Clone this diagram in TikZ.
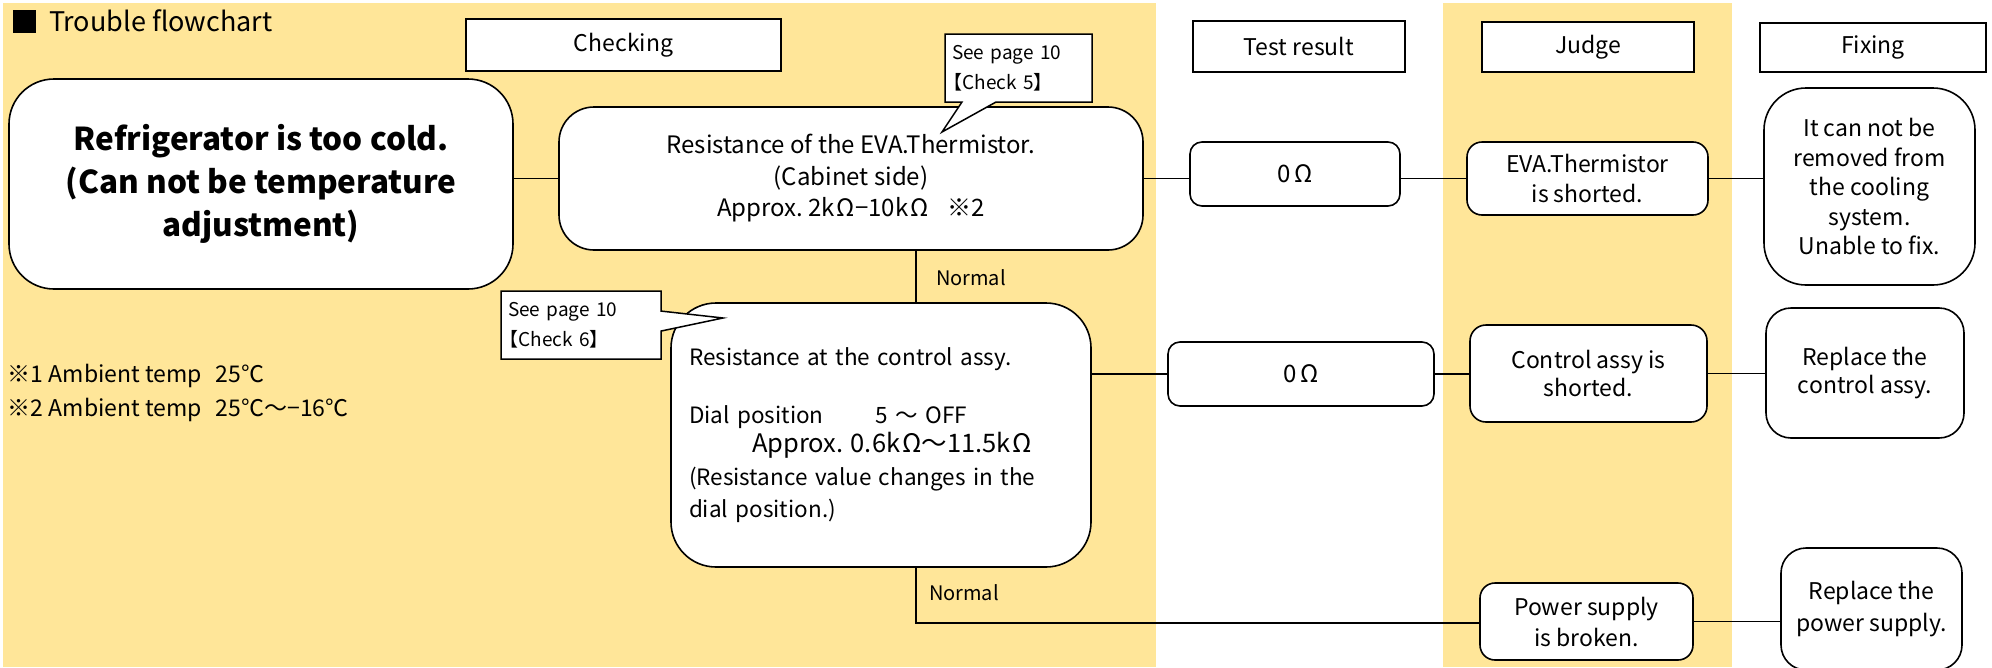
\documentclass[tikz,border=0pt]{standalone}
\usepackage{fontspec}
\setmainfont{Noto Sans CJK JP}
\usetikzlibrary{calc,shapes.callouts}
\definecolor{panel}{RGB}{255,230,153}
\begin{document}
\begin{tikzpicture}[x=1pt,y=-1pt,
  every node/.style={inner sep=0pt, outer sep=0pt},
  hdr/.style={draw, line width=2.2pt, fill=white, font=\fontsize{23}{28}\selectfont},
  rb/.style={draw, line width=1.6pt, fill=white, rounded corners=#1, align=center, font=\fontsize{23}{30}\selectfont},
  con/.style={line width=1.4pt},
  note/.style={anchor=west, font=\fontsize{23}{28}\selectfont},
  lbl/.style={anchor=west, font=\fontsize{20}{24}\selectfont},
  callbox/.style={rectangle callout, draw, line width=1.5pt, fill=white, align=left,
     font=\fontsize{19}{30}\selectfont, inner xsep=7pt, minimum width=147, minimum height=68, text width=133pt}
]
\useasboundingbox (0,0) rectangle (1992,667);
\fill[white] (0,0) rectangle (1992,667);
\fill[panel] (3,3) rectangle (1156,667);
\fill[panel] (1443,3) rectangle (1732,667);

% title
\node[fill=black, minimum width=23, minimum height=23] (sq) at (24.5,21.5) {};
\node[anchor=west, font=\fontsize{27}{30}\selectfont] (title) at (49,21) {Trouble flowchart};

% headers
\node[hdr, minimum width=315, minimum height=52] (hchk) at (623.5,45) {Checking};
\node[hdr, minimum width=212, minimum height=51] (htest) at (1299,46.5) {Test result};
\node[hdr, minimum width=212, minimum height=50] (hjudge) at (1588,47) {Judge};
\node[hdr, minimum width=226, minimum height=49] (hfix) at (1873,47.5) {Fixing};

% start
\node[rb=45, minimum width=504, minimum height=210, font=\fontsize{31.5}{43}\selectfont\bfseries] (ref) at (261,184)
  {Refrigerator is too cold.\\(Can not be temperature\\adjustment)};

% checks
\node[rb=35, minimum width=584, minimum height=143, font=\fontsize{24}{31.5}\selectfont] (eva) at (851,178.5)
  {Resistance of the EVA.Thermistor.\\(Cabinet side)\\Approx.\ 2k\hspace{2pt}Ω−10k\hspace{2pt}Ω\hspace{0.8em}※2};
\node[rb=45, minimum width=420, minimum height=264, align=left, text width=384pt, inner xsep=18pt,
  font=\fontsize{22.5}{32}\selectfont] (ctrl) at (881,435)
  {Resistance at the control assy.\\[26pt]
   Dial position\hspace{52pt}5 ～ OFF\\[-3pt]
   \hspace{63pt}{\fontsize{25.5}{32}\selectfont Approx.\ 0.6k\hspace{2pt}Ω～11.5k\hspace{2pt}Ω}\\[1pt]
   (Resistance value changes in the\\
   dial position.)\\[6pt]};

% notes
\node[note] (n1) at (8,376) {※1 Ambient temp\hspace{0.6em}25℃};
\node[note] (n2) at (8,410) {※2 Ambient temp\hspace{0.6em}25℃～−16℃};

% row 1
\node[rb=12, minimum width=210, minimum height=64, font=\fontsize{24}{30}\selectfont] (o1) at (1295,174) {0\hspace{3pt}Ω};
\node[rb=15, minimum width=241, minimum height=73] (j1) at (1587.5,178.5) {EVA.Thermistor\\is shorted.};
\node[rb=42, minimum width=211, minimum height=197, font=\fontsize{23}{29.5}\selectfont] (f1) at (1869.5,186.5)
  {It can not be\\removed from\\the cooling\\system.\\Unable to fix.};

% row 2
\node[rb=12, minimum width=266, minimum height=64, font=\fontsize{24}{30}\selectfont] (o2) at (1301,374) {0\hspace{3pt}Ω};
\node[rb=16, minimum width=237, minimum height=97, font=\fontsize{23}{28}\selectfont] (j2) at (1588.5,373.5) {Control assy is\\shorted.};
\node[rb=25, minimum width=198, minimum height=130, font=\fontsize{23}{28}\selectfont] (f2) at (1865,373) {Replace the\\control assy.};

% row 3
\node[rb=15, minimum width=213, minimum height=77, font=\fontsize{23}{31}\selectfont] (p3) at (1586.5,621.5) {Power supply\\is broken.};
\node[rb=25, minimum width=181, minimum height=122, font=\fontsize{23}{32}\selectfont] (f3) at (1871.5,609) {Replace the\\power supply.};

% connectors
\coordinate (bend) at (916,623);
\draw[con] (eva.west -| ref.east) -- (eva.west);
\draw[con] (eva.east) -- (eva.east -| o1.west);
\draw[con] (j1.west -| o1.east) -- (j1.west);
\draw[con] (j1.east) -- (j1.east -| f1.west);
\draw[con] (o2.west -| ctrl.east) -- (o2.west);
\draw[con] (o2.east) -- (o2.east -| j2.west);
\draw[con] (j2.east) -- (j2.east -| f2.west);
\draw[con] (eva.south -| bend) -- (ctrl.north -| bend);
\draw[con] (ctrl.south -| bend) -- (bend) -- (bend -| p3.west);
\draw[con] (p3.east) -- (p3.east -| f3.west);

\node[lbl] (norm1) at (936,278) {Normal};
\node[lbl] (norm2) at (929,593) {Normal};

% callouts
\node[callbox, callout absolute pointer={(942,132)}, callout pointer width=34] (c5) at (1018.5,68)
  {See page 10\\\hspace{-0.45em}【Check 5】};
\node[callbox, minimum width=160, text width=146pt, callout absolute pointer={(723,318)}, callout pointer width=20] (c6) at (581,325)
  {See page 10\\\hspace{-0.45em}【Check 6】};
\end{tikzpicture}
\end{document}
